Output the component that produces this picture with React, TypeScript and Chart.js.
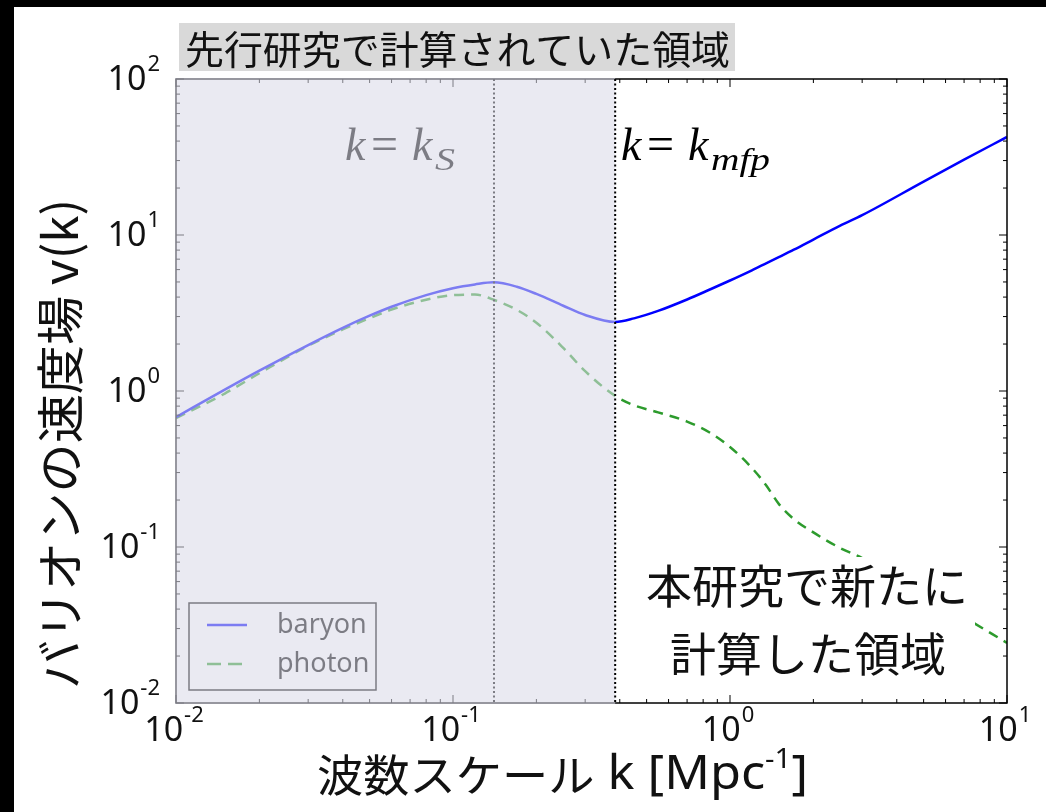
import React, { useEffect, useRef } from "react";
import { Chart, registerables } from "chart.js";
Chart.register(...registerables);

// wavenumber k [Mpc^-1]
const kValues = [0.01, 0.015, 0.02, 0.03, 0.04, 0.05, 0.06, 0.08, 0.1, 0.12, 0.14, 0.17, 0.2, 0.25, 0.3, 0.385, 0.45, 0.55, 0.7, 0.85, 1.0, 1.2, 1.35, 1.5, 1.7, 2, 2.5, 3, 5, 7, 10];
// baryon velocity
const baryonV = [0.68, 1.02, 1.35, 1.97, 2.54, 3.04, 3.47, 4.12, 4.56, 4.82, 4.97, 4.66, 4.19, 3.52, 3.07, 2.77, 2.92, 3.26, 3.86, 4.49, 5.11, 5.94, 6.58, 7.21, 8.05, 9.35, 11.48, 13.4, 22.0, 30.4, 42.5];
// photon velocity
const photonV = [0.671, 0.963, 1.3, 1.95, 2.48, 2.93, 3.33, 3.85, 4.12, 4.15, 3.85, 3.31, 2.74, 1.89, 1.34, 0.93, 0.81, 0.73, 0.637, 0.538, 0.438, 0.321, 0.249, 0.189, 0.151, 0.124, 0.0985, 0.085, 0.0496, 0.0354, 0.0243];

const xTickPowers = [-2, -1, 0, 1];
const yTickPowers = [-2, -1, 0, 1, 2];
const kS = 0.1406;
const kMfp = 0.385;

const titleText = "先行研究で計算されていた領域";
const yTitle = "バリオンの速度場 v(k)";
const xTitleJp = "波数スケール";
const xTitleLatin = " k [Mpc";
const xTitleSup = "-1";
const xTitleEnd = "]";
const noteLines = ["本研究で新たに", "計算した領域"];
const legendLabels = ["baryon", "photon"];

const BLUE = "rgb(0,0,255)";
const GREEN = "rgb(45,155,45)";

export default function App() {
  const ref = useRef<HTMLCanvasElement>(null);
  useEffect(() => {
    document.body.style.margin = "0";
    const canvas = ref.current!;
    const W = 1046, H = 812;
    const L = 176, T = 79, R = 1007, B = 703;
    const jp = '"Noto Sans CJK JP", "Noto Sans", sans-serif';
    const num = '"Noto Sans", "DejaVu Sans", sans-serif';
    const serif = '"Liberation Serif", serif';

    const drawMath = (ctx: CanvasRenderingContext2D, x: number, y: number, sub: string, subW: number) => {
      ctx.textAlign = "left";
      ctx.textBaseline = "alphabetic";
      ctx.font = "italic 46px " + serif;
      ctx.fillText("k", x, y);
      ctx.font = "48px " + serif;
      ctx.fillText("=", x + 26, y);
      ctx.font = "italic 46px " + serif;
      ctx.fillText("k", x + 67, y);
      ctx.font = "italic 32px " + serif;
      const w = ctx.measureText(sub).width;
      ctx.save();
      ctx.translate(x + 90, y + 10);
      ctx.scale(subW / w, 1);
      ctx.fillText(sub, 0, 0);
      ctx.restore();
    };

    const plugin = {
      id: "decor",
      beforeDraw(chart: any) {
        const ctx: CanvasRenderingContext2D = chart.ctx;
        ctx.save();
        ctx.fillStyle = "#000";
        ctx.fillRect(0, 0, W, H);
        ctx.fillStyle = "#fff";
        ctx.fillRect(14, 7, W - 14, H - 7);
        ctx.fillStyle = "#d9d9d9";
        ctx.fillRect(179, 23, 556, 48);
        ctx.fillStyle = "#111";
        ctx.font = "39px " + jp;
        ctx.textBaseline = "middle";
        ctx.textAlign = "left";
        const tw = ctx.measureText(titleText).width;
        ctx.save();
        ctx.translate(185, 49);
        ctx.scale(545 / tw, 1);
        ctx.fillText(titleText, 0, 0);
        ctx.restore();
        ctx.restore();
      },
      afterDatasetsDraw(chart: any) {
        const ctx: CanvasRenderingContext2D = chart.ctx;
        const xs = chart.scales.x;
        const ys = chart.scales.y;
        ctx.save();
        // k_S dotted line
        const xS = xs.getPixelForValue(kS);
        ctx.strokeStyle = "#000";
        ctx.lineWidth = 2;
        ctx.setLineDash([2, 2.5]);
        ctx.beginPath();
        ctx.moveTo(xS, T);
        ctx.lineTo(xS, B);
        ctx.stroke();
        ctx.setLineDash([]);
        // spines
        ctx.lineWidth = 1.5;
        ctx.strokeStyle = "#000";
        ctx.strokeRect(L, T, R - L, B - T);
        // ticks
        ctx.lineWidth = 1;
        for (let p = -2; p <= 1; p++) {
          for (let m = 1; m <= 9; m++) {
            const v = m * Math.pow(10, p);
            if (v > 10.0001) continue;
            const x = xs.getPixelForValue(v);
            const len = m === 1 ? 8 : 4;
            ctx.beginPath();
            ctx.moveTo(x, B); ctx.lineTo(x, B - len);
            ctx.moveTo(x, T); ctx.lineTo(x, T + len);
            ctx.stroke();
          }
        }
        for (let p = -2; p <= 2; p++) {
          for (let m = 1; m <= 9; m++) {
            const v = m * Math.pow(10, p);
            if (v > 100.0001) continue;
            const y = ys.getPixelForValue(v);
            const len = m === 1 ? 8 : 4;
            ctx.beginPath();
            ctx.moveTo(L, y); ctx.lineTo(L + len, y);
            ctx.moveTo(R, y); ctx.lineTo(R - len, y);
            ctx.stroke();
          }
        }
        // legend
        ctx.fillStyle = "#fff";
        ctx.fillRect(189, 603, 187, 87);
        ctx.strokeStyle = "#000";
        ctx.lineWidth = 1.5;
        ctx.strokeRect(189, 603, 187, 87);
        ctx.lineWidth = 2.5;
        ctx.strokeStyle = BLUE;
        ctx.beginPath(); ctx.moveTo(207, 625); ctx.lineTo(247, 625); ctx.stroke();
        ctx.strokeStyle = GREEN;
        ctx.setLineDash([14, 7]);
        ctx.beginPath(); ctx.moveTo(207, 664); ctx.lineTo(247, 664); ctx.stroke();
        ctx.setLineDash([]);
        ctx.fillStyle = "#000";
        ctx.font = "27px " + num;
        ctx.textBaseline = "middle";
        ctx.textAlign = "left";
        ctx.fillText(legendLabels[0], 277, 625);
        ctx.fillText(legendLabels[1], 277, 664);
        // k = k_S label
        ctx.fillStyle = "#000";
        drawMath(ctx, 345, 160, "S", 20);
        // overlay on previously computed region
        const xM = xs.getPixelForValue(kMfp);
        ctx.fillStyle = "rgba(218,218,232,0.57)";
        ctx.fillRect(L - 1, T - 1, xM - L + 1, B - T + 2);
        // k_mfp dotted line
        ctx.strokeStyle = "#000";
        ctx.lineWidth = 2;
        ctx.setLineDash([2, 2.5]);
        ctx.beginPath();
        ctx.moveTo(xM, T);
        ctx.lineTo(xM, B);
        ctx.stroke();
        ctx.setLineDash([]);
        ctx.fillStyle = "#000";
        drawMath(ctx, 621, 160, "mfp", 59);
        // annotation box
        ctx.fillStyle = "#fff";
        ctx.fillRect(638, 557, 337, 133);
        ctx.fillStyle = "#111";
        ctx.font = "46px " + jp;
        ctx.textAlign = "center";
        ctx.textBaseline = "middle";
        ctx.fillText(noteLines[0], 807, 586);
        ctx.fillText(noteLines[1], 808, 654);
        // tick labels
        const drawPow = (p: number, x: number, y: number, align: "center" | "right") => {
          ctx.textBaseline = "middle";
          ctx.textAlign = "left";
          ctx.font = "34px " + num;
          const w1 = ctx.measureText("10").width;
          ctx.font = "22px " + num;
          const sup = String(p);
          const w2 = ctx.measureText(sup).width;
          const total = w1 + 1 + w2;
          const x0 = align === "center" ? x - total / 2 : x - total;
          ctx.font = "34px " + num;
          ctx.fillText("10", x0, y);
          ctx.font = "22px " + num;
          ctx.fillText(sup, x0 + w1 + 1, y - 15);
        };
        ctx.fillStyle = "#111";
        for (const p of xTickPowers) {
          drawPow(p, xs.getPixelForValue(Math.pow(10, p)) - 2, 731, "center");
        }
        for (const p of yTickPowers) {
          drawPow(p, 160, ys.getPixelForValue(Math.pow(10, p)) + 1, "right");
        }
        // y title
        ctx.save();
        ctx.translate(60, 444);
        ctx.rotate(-Math.PI / 2);
        ctx.font = "48px " + jp;
        ctx.textAlign = "center";
        ctx.textBaseline = "middle";
        const yw = ctx.measureText(yTitle).width;
        ctx.scale(490 / yw, 1);
        ctx.fillText(yTitle, 0, 0);
        ctx.restore();
        // x title
        ctx.font = "44px " + jp;
        const wa = ctx.measureText(xTitleJp).width;
        ctx.font = "48px " + num;
        const wl = ctx.measureText(xTitleLatin).width;
        ctx.font = "28px " + num;
        const wb = ctx.measureText(xTitleSup).width;
        ctx.font = "48px " + num;
        const wc = ctx.measureText(xTitleEnd).width;
        const total = wa + wl + wb + wc;
        ctx.save();
        ctx.translate(317, 0);
        ctx.scale(491 / total, 1);
        ctx.textAlign = "left";
        ctx.textBaseline = "middle";
        ctx.font = "44px " + jp;
        ctx.fillText(xTitleJp, 0, 775);
        ctx.font = "48px " + num;
        ctx.fillText(xTitleLatin, wa, 775);
        ctx.font = "28px " + num;
        ctx.fillText(xTitleSup, wa + wl, 760);
        ctx.font = "48px " + num;
        ctx.fillText(xTitleEnd, wa + wl + wb, 775);
        ctx.restore();
        ctx.restore();
      },
    };

    const chart = new Chart(canvas, {
      type: "line",
      data: {
        datasets: [
          {
            label: legendLabels[0],
            data: kValues.map((k, i) => ({ x: k, y: baryonV[i] })),
            borderColor: BLUE,
            borderWidth: 2.5,
            pointRadius: 0,
            cubicInterpolationMode: "monotone",
            fill: false,
          },
          {
            label: legendLabels[1],
            data: kValues.map((k, i) => ({ x: k, y: photonV[i] })),
            borderColor: GREEN,
            borderWidth: 2.5,
            borderDash: [10, 7],
            pointRadius: 0,
            cubicInterpolationMode: "monotone",
            fill: false,
          },
        ],
      },
      options: {
        responsive: false,
        animation: false,
        devicePixelRatio: 1,
        layout: { padding: { left: L, top: T, right: W - R, bottom: H - B } },
        plugins: { legend: { display: false }, tooltip: { enabled: false }, title: { display: false } },
        scales: {
          x: { type: "logarithmic", min: 0.01, max: 10, display: false },
          y: { type: "logarithmic", min: 0.01, max: 100, display: false },
        },
      } as any,
      plugins: [plugin],
    });
    return () => chart.destroy();
  }, []);
  return <canvas ref={ref} width={1046} height={812} style={{ display: "block" }} />;
}
